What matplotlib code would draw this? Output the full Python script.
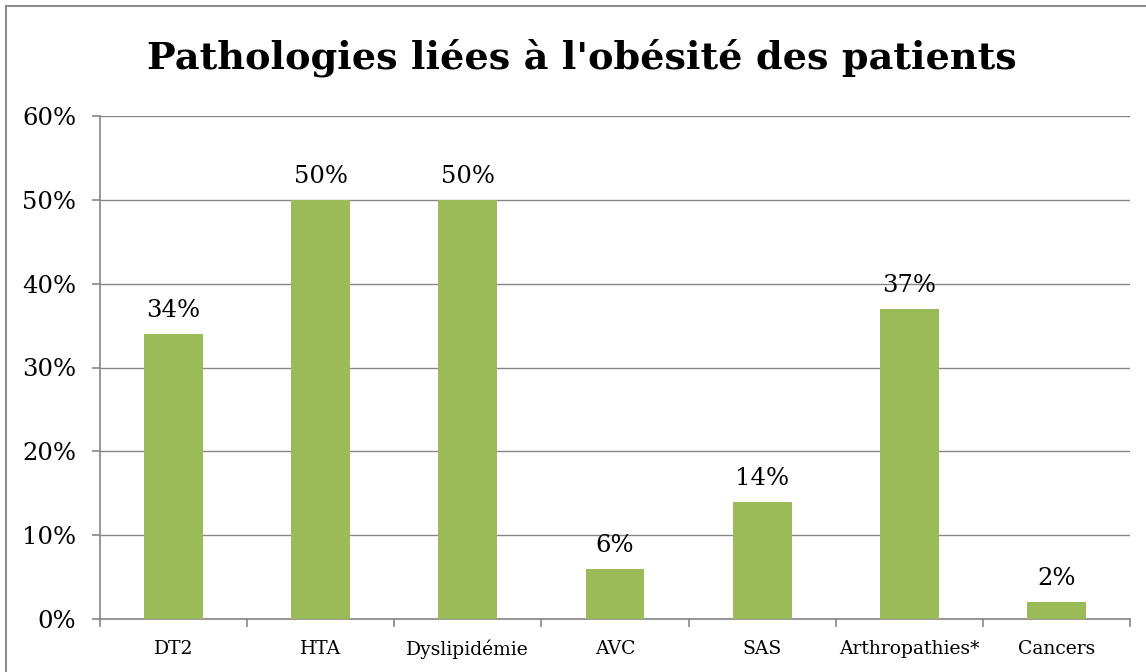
import numpy as np
import matplotlib.pyplot as plt
from matplotlib.patches import Rectangle
from matplotlib.ticker import FixedLocator

categories = ["DT2", "HTA", "Dyslipidémie", "AVC", "SAS", "Arthropathies*", "Cancers"]
values = [34, 50, 50, 6, 14, 37, 2]
title = "Pathologies liées à l'obésité des patients"

plt.rcParams['font.family'] = ['DejaVu Serif']

fig = plt.figure(figsize=(11.46, 6.72), dpi=100)
ax = fig.add_axes([100/1146, 53/672, 1030/1146, 503/672])

x = np.arange(len(categories))
ax.bar(x, values, width=0.4, color='#9BBB59', zorder=3)
for xi, v in zip(x, values):
    ax.text(xi, v + 1.4, f"{v}%", ha='center', va='bottom', fontsize=17.5)

ax.set_xlim(-0.5, len(categories) - 0.5)
ax.set_ylim(0, 60)
ax.set_yticks(range(0, 61, 10))
ax.set_yticklabels([f"{t}%" for t in range(0, 61, 10)], fontsize=17.5)
ax.set_xticks(x)
ax.set_xticklabels(categories, fontsize=13.5)
ax.tick_params(axis='x', length=0, pad=15)
ax.xaxis.set_minor_locator(FixedLocator(np.arange(-0.5, len(categories), 1)))
ax.tick_params(axis='x', which='minor', length=6, color='#868686', width=1.2)
ax.tick_params(axis='y', length=6, color='#868686', width=1.2, pad=11)
ax.grid(axis='y', color='#868686', linewidth=1, zorder=0)
for s in ['top', 'right']:
    ax.spines[s].set_visible(False)
for s in ['left', 'bottom']:
    ax.spines[s].set_color('#868686')
    ax.spines[s].set_linewidth(1.2)

fig.text(582/1146, 1 - 58/672, title, ha='center', va='center', fontsize=27.5, fontweight='bold')
fig.patches.append(Rectangle((6/1146, -0.05), 1.1, 1.05 - 6/672, transform=fig.transFigure,
                             fill=False, edgecolor='#8c8c8c', linewidth=1.5))

fig.savefig("out.png", dpi=100)
